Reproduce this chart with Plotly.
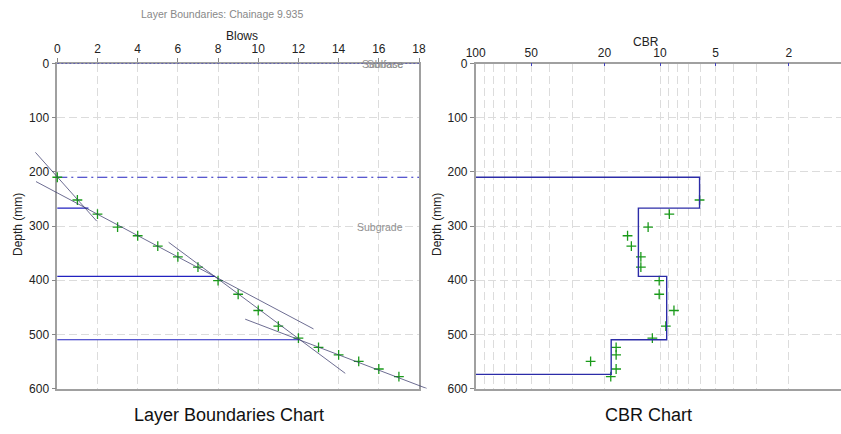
import plotly.graph_objects as go

# ---- DCP test readings ----
blows = [0, 1, 2, 3, 4, 5, 6, 7, 8, 9, 10, 11, 12, 13, 14, 15, 16, 17]
depth = [210, 252, 278, 302, 318, 337, 357, 376, 401, 426, 456, 485, 507, 524, 538, 550, 564, 578]

# fitted layer trend lines (start/end in blows and depth)
fit_blows_start = [-1.09, -1.06, 5.54, 9.35]
fit_depth_start = [164, 218, 330, 472]
fit_blows_end = [1.96, 12.75, 14.33, 18.39]
fit_depth_end = [291, 490, 572, 600]

# layer boundaries found from the trend-line intersections
boundary_depth = [267, 393, 510]
boundary_blows = [1.55, 7.85, 12.05]
surface_depth = 210

# CBR per blow and layer CBR
cbr_depth = [252, 278, 302, 318, 337, 357, 376, 401, 426, 456, 485, 507, 524, 538, 550, 564, 578]
cbr_value = [6.1, 8.9, 11.6, 15.0, 14.3, 12.7, 12.7, 10.1, 10.1, 8.4, 9.3, 11.0, 17.3, 17.3, 23.8, 17.3, 18.5]
layer_top = [210, 267, 393, 510]
layer_bottom = [267, 393, 510, 574]
layer_cbr = [6.1, 13.1, 9.2, 18.4]

blow_ticks = list(range(0, 19, 2))
depth_ticks = list(range(0, 601, 100))
cbr_major = [100, 50, 20, 10, 5, 2]
cbr_minor = [90, 80, 70, 60, 40, 30, 9, 8, 7, 6, 4, 3]

W, H = 841, 434
GREEN = "#1a9a1a"
BLUE = "#2222c0"
NAVY = "#2c2ca8"
FIT = "rgba(60,60,110,0.75)"
GRID = "#dcdcdc"
AXIS = "#a0a0a0"
NARROW = "Liberation Sans Narrow, Arial Narrow, Liberation Sans, Arial"
TICKFONT = dict(family=NARROW, size=12, color="#222")


def px_x(p):
    return p / W


def px_y(p):
    return 1 - p / H


# left frame in pixels
LX0, LX1 = 57.3, 419.0
TY, BY = 63.5, 388.5
blow_scale = (LX1 - LX0) / 18.0
WX0, WX1 = 28.0, 440.0  # wider overlay panel so trend lines can run past the frame
wide_range = [(WX0 - LX0) / blow_scale, (WX1 - LX0) / blow_scale]

# CBR frame
CX0 = 475.7
DECADE = 184.3
cbr_range = [2.0, 2.0 - (W - CX0) / DECADE]

fig = go.Figure()

# invisible anchor trace so the framed blows/depth axes get drawn
fig.add_trace(go.Scatter(x=[9], y=[300], mode="markers", marker=dict(opacity=0),
                         hoverinfo="skip", xaxis="x", yaxis="y"))

# ---------- Layer boundaries chart (overlay panel) ----------
ov = dict(xaxis="x3", yaxis="y3")
fig.add_trace(go.Scatter(x=[0, 18], y=[0, 0], mode="lines",
                         line=dict(color=BLUE, width=1, dash="2px,2px"), **ov))
fig.add_trace(go.Scatter(x=[0, 18], y=[surface_depth, surface_depth], mode="lines",
                         line=dict(color=BLUE, width=1, dash="10px,4px,2px,4px"), **ov))
fig.add_trace(go.Scatter(x=blows, y=depth, mode="markers",
                         marker=dict(symbol="cross-thin", size=7,
                                     line=dict(color=GREEN, width=1.3)), **ov))
for bd, bb in zip(boundary_depth, boundary_blows):
    fig.add_trace(go.Scatter(x=[0, bb], y=[bd, bd], mode="lines",
                             line=dict(color=BLUE, width=1.2), **ov))
for xs, ys, xe, ye in zip(fit_blows_start, fit_depth_start, fit_blows_end, fit_depth_end):
    fig.add_trace(go.Scatter(x=[xs, xe], y=[ys, ye], mode="lines",
                             line=dict(color=FIT, width=1), **ov))

# ---------- CBR chart ----------
step_x, step_y = [100], [layer_top[0]]
for top, bot, c in zip(layer_top, layer_bottom, layer_cbr):
    step_x += [c, c]
    step_y += [top, bot]
step_x.append(100)
step_y.append(layer_bottom[-1])
fig.add_trace(go.Scatter(x=cbr_value, y=cbr_depth, mode="markers",
                         marker=dict(symbol="cross-thin", size=7,
                                     line=dict(color=GREEN, width=1.3)),
                         xaxis="x2", yaxis="y2"))
fig.add_trace(go.Scatter(x=step_x, y=step_y, mode="lines",
                         line=dict(color=NAVY, width=1.4), xaxis="x2", yaxis="y2"))

grid_common = dict(showgrid=True, gridcolor=GRID, griddash="8px,4px", gridwidth=1,
                   zeroline=False, showline=True, linecolor=AXIS, linewidth=1.5,
                   tickfont=TICKFONT, ticks="outside", ticklen=4, tickcolor="#888")

fig.update_layout(
    width=W, height=H,
    margin=dict(l=0, r=0, t=0, b=0, autoexpand=False),
    paper_bgcolor="white", plot_bgcolor="rgba(0,0,0,0)",
    showlegend=False,
    xaxis=dict(domain=[px_x(LX0), px_x(LX1)], range=[0, 18], side="top",
               tickmode="array", tickvals=blow_ticks, mirror=True, anchor="y",
               **grid_common),
    yaxis=dict(domain=[px_y(BY), px_y(TY)], range=[600, 0], tickmode="array",
               tickvals=depth_ticks, mirror=True, anchor="x", **grid_common),
    xaxis3=dict(domain=[px_x(WX0), px_x(WX1)], range=wide_range, visible=False,
                anchor="y3"),
    yaxis3=dict(domain=[px_y(BY), px_y(TY)], range=[600, 0], visible=False,
                anchor="x3"),
    xaxis2=dict(domain=[px_x(CX0), 1], type="log", range=cbr_range, side="top",
                anchor="y2", tickmode="array", tickvals=cbr_major,
                ticktext=[str(v) for v in cbr_major],
                showgrid=True, gridcolor=GRID, griddash="8px,4px", zeroline=False,
                showline=True, linecolor=AXIS, linewidth=1.5, mirror=True,
                tickfont=TICKFONT, ticks="inside", ticklen=3, tickcolor="#4040c0",
                minor=dict(tickmode="array", tickvals=cbr_minor, showgrid=True,
                           gridcolor=GRID, griddash="8px,4px", ticks="")),
    yaxis2=dict(domain=[px_y(BY), px_y(TY)], range=[600, 0], tickmode="array",
                tickvals=depth_ticks, anchor="x2", showgrid=True, gridcolor=GRID,
                griddash="8px,4px", zeroline=False, showline=True, linecolor=AXIS,
                linewidth=1.5, tickfont=TICKFONT, ticks="outside", ticklen=4,
                tickcolor="#888"),
)

LABEL = dict(family=NARROW, size=12, color="#222")
notes = [
    dict(x=px_x(222), y=px_y(14), text="Layer Boundaries: Chainage 9.935",
         font=dict(family="Liberation Sans, Arial", size=10.5, color="#888")),
    dict(x=px_x(242), y=px_y(36), text="Blows", font=LABEL),
    dict(x=px_x(646), y=px_y(42), text="CBR", font=LABEL),
    dict(x=px_x(18), y=px_y(225), text="Depth (mm)", font=LABEL, textangle=-90),
    dict(x=px_x(437), y=px_y(225), text="Depth (mm)", font=LABEL, textangle=-90),
    dict(x=px_x(229), y=px_y(415), text="Layer Boundaries Chart",
         font=dict(family="Liberation Sans, Arial", size=18, color="#111")),
    dict(x=px_x(648), y=px_y(415), text="CBR Chart",
         font=dict(family="Liberation Sans, Arial", size=18, color="#111")),
]
for n in notes:
    fig.add_annotation(xref="paper", yref="paper", showarrow=False,
                       xanchor="center", yanchor="middle", **n)

# layer names inside the layer chart
layer_names = ["Subbase", "Surface", "Subgrade"]
layer_name_blows = [16.2, 16.3, 16.05]
layer_name_depth = [0, 0, 302]
for name, bx, dy in zip(layer_names, layer_name_blows, layer_name_depth):
    fig.add_annotation(xref="x3", yref="y3", x=bx, y=dy, text=name, showarrow=False,
                       font=dict(family="Liberation Sans, Arial", size=10.5, color="#909090"))

# the page body gets no default margin, so the figure fills the window exactly
fig.write_html("out.html", post_script="document.body.style.margin='0';")
